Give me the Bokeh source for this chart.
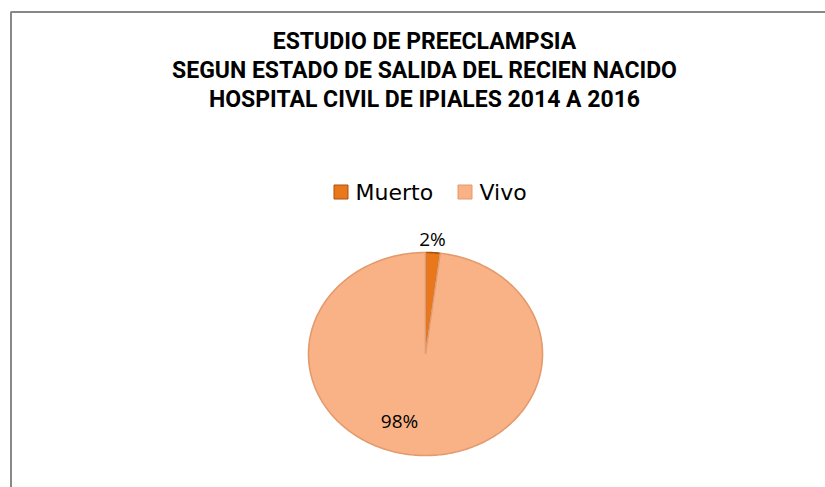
import numpy as np
from bokeh.plotting import figure
from bokeh.models import Range1d, ColumnDataSource
from bokeh.core.properties import value
from bokeh.embed import file_html
from bokeh.resources import INLINE

title_lines = ["ESTUDIO DE PREECLAMPSIA",
               "SEGUN ESTADO DE SALIDA DEL RECIEN NACIDO",
               "HOSPITAL CIVIL DE IPIALES 2014 A 2016"]
categories = ["Muerto", "Vivo"]
percentages = [2, 98]
colors = ["#E8781A", "#F9B286"]
edge_colors = ["#A9520E", "#E39A6C"]

W, H = 825, 487
p = figure(width=W, height=H, output_backend="svg", toolbar_location=None,
           x_range=Range1d(0, W), y_range=Range1d(H, 0),
           x_axis_type=None, y_axis_type=None, min_border=0)
p.grid.visible = False
p.outline_line_color = None
p.background_fill_color = "white"
p.border_fill_color = "white"

# chart frame (cut off on right/bottom like the reference)
p.line(x=[10.5, 10.5, W + 10], y=[H + 10, 11.5, 11.5], line_color="#888888", line_width=2)

# title
tsrc = ColumnDataSource(dict(x=[424] * 3, y=[41, 70, 98.5], t=title_lines))
p.text(x="x", y="y", text="t", source=tsrc, text_align="center", text_baseline="middle",
       text_font=value("Roboto"), text_font_style="bold", text_font_size="23px",
       text_color="#000000")

# legend
sw_x = [340.5, 464.5]
lab_x = [355, 479]
ly = 191.5
p.rect(x=sw_x, y=[ly] * 2, width=14, height=14, fill_color=colors,
       line_color=edge_colors, line_width=1)
p.text(x=lab_x, y=[ly] * 2, text=categories, text_baseline="middle",
       text_font=value("DejaVu Sans"), text_font_size="22px", text_color="#000000")

# pie (elliptical, starts at 12 o'clock, clockwise)
cx, cy, rx, ry = 425, 353.5, 117, 101.5
fr = np.array(percentages, dtype=float) / sum(percentages)
ends = np.cumsum(fr)
starts = ends - fr
xs, ys = [], []
for s, e in zip(starts, ends):
    t = np.linspace(s, e, max(int((e - s) * 400), 6)) * 2 * np.pi
    xs.append(np.concatenate([[cx], cx + rx * np.sin(t), [cx]]))
    ys.append(np.concatenate([[cy], cy - ry * np.cos(t), [cy]]))
p.patches(xs=xs, ys=ys, fill_color=colors, line_color=edge_colors, line_width=1.6)

# data labels
labels = [f"{v:.0f}%" for v in percentages]
p.text(x=[432, 399], y=[238, 420], text=labels, text_align="center", text_baseline="middle",
       text_font=value("Open Sans"), text_font_size="19px", text_color="#000000")

open("out.html", "w").write(file_html(p, INLINE))
